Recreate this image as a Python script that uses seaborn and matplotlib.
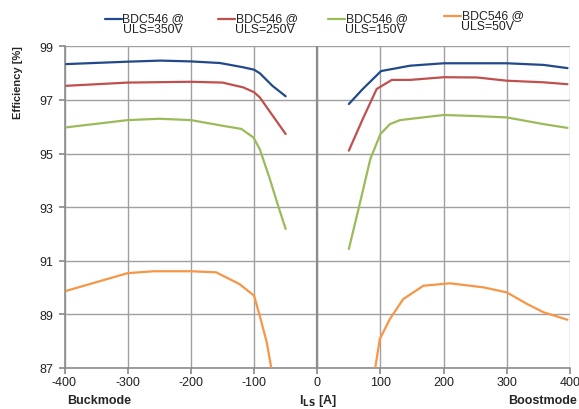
import matplotlib
matplotlib.use("Agg")
import matplotlib.pyplot as plt
from matplotlib.lines import Line2D
import seaborn as sns
import pandas as pd

# ---- data ----
series_names = ["BDC546 @\nULS=350V", "BDC546 @\nULS=250V", "BDC546 @\nULS=150V", "BDC546 @\nULS=50V"]
colors = ["#22498A", "#C0504D", "#9BBB59", "#F79646"]

# Buck mode (negative current)
buck_x_350 = [-397, -300, -248, -200, -154, -117, -100, -91, -71, -50]
buck_y_350 = [98.34, 98.43, 98.47, 98.44, 98.38, 98.22, 98.13, 98.0, 97.53, 97.14]
buck_x_250 = [-397, -300, -200, -150, -117, -100, -91, -50]
buck_y_250 = [97.53, 97.65, 97.68, 97.65, 97.47, 97.29, 97.1, 95.73]
buck_x_150 = [-397, -300, -250, -200, -150, -120, -101, -91, -75, -62, -50]
buck_y_150 = [95.98, 96.25, 96.30, 96.25, 96.04, 95.92, 95.6, 95.17, 94.05, 93.06, 92.19]
buck_x_50 = [-397, -300, -259, -200, -160, -123, -100, -91, -80, -73]
buck_y_50 = [89.88, 90.54, 90.61, 90.61, 90.57, 90.13, 89.70, 88.95, 87.97, 87.04]

# Boost mode (positive current)
boost_x_350 = [50, 72, 101, 147, 200, 300, 358, 396]
boost_y_350 = [96.85, 97.41, 98.08, 98.28, 98.37, 98.37, 98.31, 98.19]
boost_x_250 = [50, 72, 94, 118, 147, 200, 253, 300, 358, 396]
boost_y_250 = [95.11, 96.29, 97.41, 97.75, 97.75, 97.85, 97.84, 97.72, 97.66, 97.59]
boost_x_150 = [50, 68, 84, 100, 115, 131, 200, 253, 300, 358, 396]
boost_y_150 = [91.44, 93.2, 94.8, 95.73, 96.1, 96.25, 96.44, 96.4, 96.35, 96.1, 95.96]
boost_x_50 = [92, 99, 115, 136, 168, 210, 263, 300, 332, 358, 396]
boost_y_50 = [87.04, 88.08, 88.83, 89.57, 90.07, 90.16, 90.01, 89.82, 89.39, 89.08, 88.8]

x_ticks = [-400, -300, -200, -100, 0, 100, 200, 300, 400]
y_ticks = [87, 89, 91, 93, 95, 97, 99]

buck_x = [buck_x_350, buck_x_250, buck_x_150, buck_x_50]
buck_y = [buck_y_350, buck_y_250, buck_y_150, buck_y_50]
boost_x = [boost_x_350, boost_x_250, boost_x_150, boost_x_50]
boost_y = [boost_y_350, boost_y_250, boost_y_150, boost_y_50]

rows = []
for name, bx, by, ox, oy in zip(series_names, buck_x, buck_y, boost_x, boost_y):
    for x, y in zip(bx, by):
        rows.append({"series": name, "seg": name + "_buck", "I": x, "eff": y})
    for x, y in zip(ox, oy):
        rows.append({"series": name, "seg": name + "_boost", "I": x, "eff": y})
df = pd.DataFrame(rows)

# ---- plot ----
sns.set_theme(style="white")
plt.rcParams["font.family"] = ["Liberation Sans", "DejaVu Sans"]

W, H = 579, 410
fig = plt.figure(figsize=(W / 100, H / 100), dpi=100)
ax = fig.add_axes([64.5 / W, 1 - 369 / H, 505.5 / W, (369 - 47.4) / H])

sns.lineplot(data=df, x="I", y="eff", hue="series", units="seg", estimator=None,
             sort=False, palette=colors, hue_order=series_names, linewidth=1.6,
             ax=ax, legend=False, zorder=3)

ax.set_xlim(-400, 400)
ax.set_ylim(87, 99)
ax.set_xticks(x_ticks)
ax.set_yticks(y_ticks)
ax.set_xticklabels([str(t) for t in x_ticks], fontsize=9, color="#222222")
ax.set_yticklabels([str(t) for t in y_ticks], fontsize=9, color="#222222")
ax.grid(True, color="#A0A0A0", linewidth=1.0, zorder=0)
ax.axvline(0, color="#8C8C8C", linewidth=1.6, zorder=1)
for s in ["top", "right"]:
    ax.spines[s].set_visible(False)
for s in ["left", "bottom"]:
    ax.spines[s].set_color("#8C8C8C")
    ax.spines[s].set_linewidth(1.2)
ax.tick_params(axis="both", which="both", length=4, color="#8C8C8C", direction="out",
               left=True, bottom=True, pad=2)
ax.tick_params(axis="y", pad=4)
ax.set_xlabel("")
ax.set_ylabel("Efficiency [%]", fontsize=8, fontweight="bold")
ax.yaxis.set_label_coords((23 - 64.5) / 505.5, (369 - 83) / (369 - 47.4))

fig.text(318 / W, 1 - 401 / H, r"I$_{\mathbf{LS}}$ [A]", ha="center", va="center",
         fontsize=9, fontweight="bold")
fig.text(67 / W, 1 - 401 / H, "Buckmode", ha="left", va="center", fontsize=9, fontweight="bold")
fig.text(577 / W, 1 - 401 / H, "Boostmode", ha="right", va="center", fontsize=9, fontweight="bold")

# legend (manual layout, Excel style: handle aligned with first text line)
leg_x = [105, 218, 328, 444]
leg_y = [19.5, 19.5, 19.5, 16.5]
for name, c, lx, ly in zip(series_names, colors, leg_x, leg_y):
    fig.add_artist(Line2D([lx / W, (lx + 17) / W], [1 - ly / H, 1 - ly / H],
                          transform=fig.transFigure, color=c, linewidth=1.6))
    fig.text((lx + 17.5) / W, 1 - (ly - 6.5) / H, name, ha="left", va="top",
             fontsize=8.8, linespacing=0.9, color="#222222")

fig.savefig("out.png", dpi=100)
